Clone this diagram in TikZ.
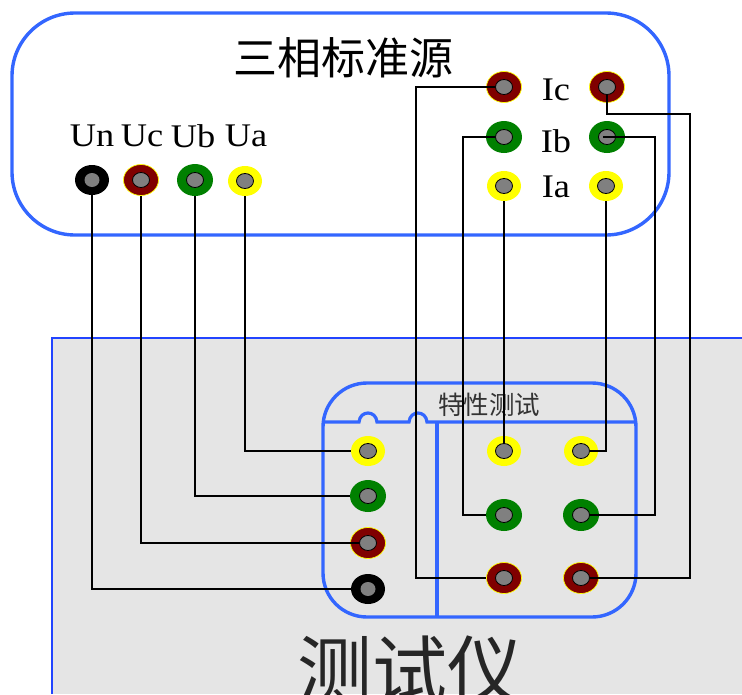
\documentclass[tikz,border=0pt]{standalone}
\usepackage{graphicx}
\usepackage{fontspec}
\setmainfont{Liberation Serif}
\newfontfamily\cjk{Noto Sans CJK SC}
\usetikzlibrary{shapes.geometric}
\definecolor{boxblue}{HTML}{3366FF}
\definecolor{panelblue}{HTML}{2244FF}
\definecolor{panelgray}{HTML}{E5E5E5}
\definecolor{darkred}{HTML}{800000}
\definecolor{darkgreen}{HTML}{008000}
\definecolor{pinyellow}{HTML}{FFFF00}
\definecolor{pingray}{HTML}{808080}
\tikzset{
  ringbase/.style={ellipse,inner sep=0pt,minimum width=34pt,minimum height=30pt},
  ringyellow/.style={ringbase,fill=pinyellow},
  ringgreen/.style={ringbase,fill=darkgreen,minimum width=36pt,minimum height=32pt},
  ringred/.style={ringbase,fill=darkred,draw=pinyellow,line width=0.7pt,minimum width=35pt,minimum height=31pt},
  ringblack/.style={ringbase,fill=black},
  pincore/.style={ellipse,inner sep=0pt,minimum width=17pt,minimum height=15pt,fill=pingray,draw=black,line width=0.8pt},
  blackcore/.style={ellipse,inner sep=0pt,minimum width=15pt,minimum height=14pt,fill=pingray},
  wire/.style={draw=black,line width=2pt,line join=miter},
  srcbox/.style={draw=boxblue,line width=3.4pt,rounded corners=63pt},
  testbox/.style={draw=boxblue,line width=3.4pt,rounded corners=44pt},
  divider/.style={draw=boxblue,line width=3.2pt},
  panelline/.style={draw=panelblue,line width=2pt},
  pinlabel/.style={inner sep=0pt,font=\fontsize{33}{36}\selectfont},
}
\newcommand{\terminal}[5]{%
  \node[#4] (#1) at (#2,#3) {};
  \node[#5] (#1-c) at (#2,#3) {};
}
\newcommand{\wide}[1]{\scalebox{1.1}[1]{#1}}
\begin{document}
\begin{tikzpicture}[x=1pt,y=-1pt]
\clip (0,0) rectangle (742,694);
\useasboundingbox (0,0) rectangle (742,694);
\fill[white] (0,0) rectangle (742,694);
% instrument panel
\fill[panelgray] (52,338) rectangle (742,694);
\draw[panelline] (52,694) -- (52,338) -- (742,338);
% source box
\draw[srcbox] (12,13) rectangle (669,235);
% test box
\draw[testbox] (323,383) rectangle (636,617);
\draw[divider] (323,422) -- (359,422) .. controls (360,410) and (376,410) .. (377,422)
   -- (409,422) .. controls (410,410) and (426,410) .. (427,422) -- (636,422);
\draw[divider] (437,422) -- (437,617);
% texts
\node[inner sep=0pt,font=\cjk\fontsize{44}{47}\selectfont] (title) at (343,58) {三相标准源};
\node[inner sep=0pt,font=\cjk\fontsize{25.5}{28}\selectfont,text=black!80] (sub) at (489,405) {特性测试};
\node[inner sep=0pt,font=\cjk\fontsize{75}{78}\selectfont,text=black!85] (meter) at (410,670) {测试仪};
\node[pinlabel] (lUn) at (92,136) {\wide{Un}};
\node[pinlabel] (lUc) at (142,136) {\wide{Uc}};
\node[pinlabel] (lUb) at (193,136) {\wide{Ub}};
\node[pinlabel] (lUa) at (246,136) {\wide{Ua}};
\node[pinlabel] (lIc) at (556,90) {\wide{Ic}};
\node[pinlabel] (lIb) at (556,141) {\wide{Ib}};
\node[pinlabel] (lIa) at (556,187) {\wide{Ia}};
% source terminals
\terminal{sUn}{92}{180}{ringblack}{blackcore}
\terminal{sUc}{141}{180}{ringred}{pincore}
\terminal{sUb}{195}{180}{ringgreen}{pincore}
\terminal{sUa}{245}{181}{ringyellow}{pincore}
\terminal{sIcL}{504}{87}{ringred}{pincore}
\terminal{sIcR}{607}{87}{ringred}{pincore}
\terminal{sIbL}{504}{137}{ringgreen}{pincore}
\terminal{sIbR}{607}{137}{ringgreen}{pincore}
\terminal{sIaL}{504}{186}{ringyellow}{pincore}
\terminal{sIaR}{606}{186}{ringyellow}{pincore}
% test terminals
\terminal{tUa}{368}{451}{ringyellow}{pincore}
\terminal{tUb}{368}{496}{ringgreen}{pincore}
\terminal{tUc}{368}{543}{ringred}{pincore}
\terminal{tUn}{368}{589}{ringblack}{blackcore}
\terminal{tIaL}{504}{451}{ringyellow}{pincore}
\terminal{tIaR}{581}{451}{ringyellow}{pincore}
\terminal{tIbL}{504}{515}{ringgreen}{pincore}
\terminal{tIbR}{581}{515}{ringgreen}{pincore}
\terminal{tIcL}{504}{578}{ringred}{pincore}
\terminal{tIcR}{581}{578}{ringred}{pincore}
% routing points
\coordinate (rIcL) at (416,300);
\coordinate (rIbL) at (463,300);
\coordinate (rIbR) at (655,300);
\coordinate (rIcR) at (690,114);
% wires
\draw[wire] (sUa.south) |- (tUa.west);
\draw[wire] (sUb.south) |- (tUb.west);
\draw[wire] (sUc.south) |- (tUc-c.west);
\draw[wire] (sUn.south) |- (tUn.west);
\draw[wire] (sIaL.south) -- (tIaL-c.north);
\draw[wire] (sIaR.south) |- (tIaR-c.east);
\draw[wire] (sIcL-c.west) -| (rIcL) |- (tIcL.west);
\draw[wire] (sIbL-c.west) -| (rIbL) |- (tIbL.west);
\draw[wire] ([xshift=-4pt]sIbR-c.center) -| (rIbR) |- (tIbR-c.east);
\draw[wire] (sIcR-c.south) |- (rIcR) |- (tIcR-c.east);
\end{tikzpicture}
\end{document}
